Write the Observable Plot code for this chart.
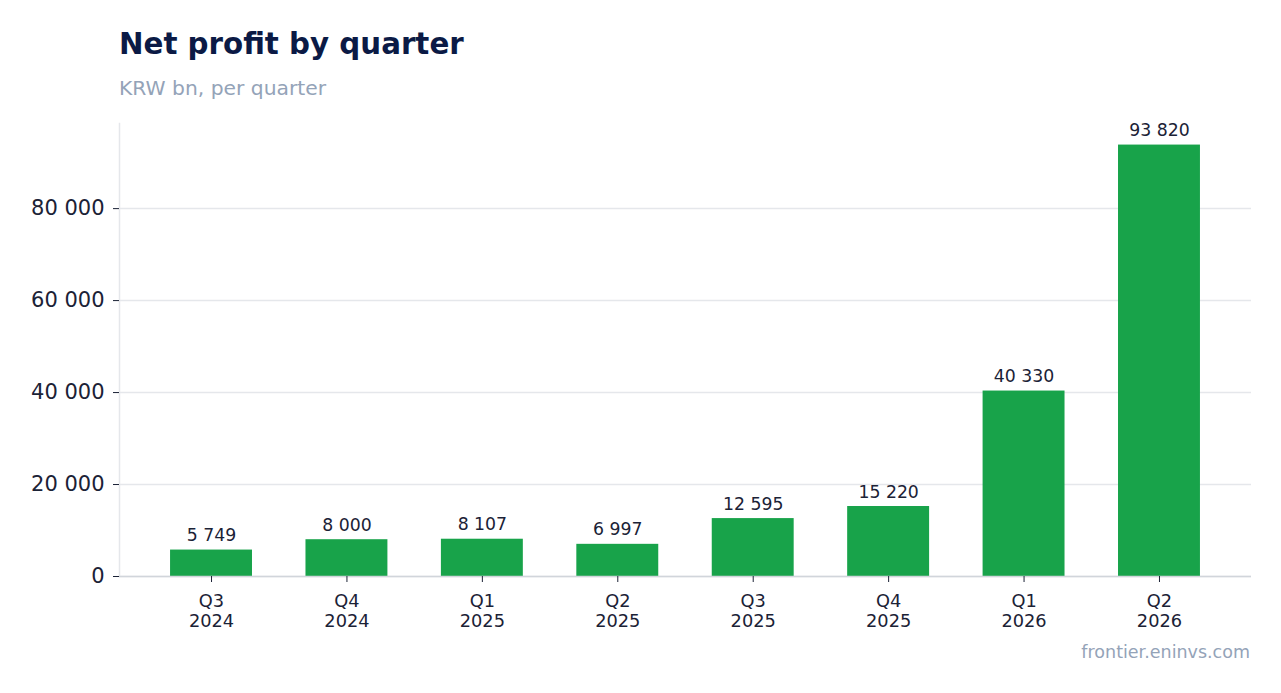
<!DOCTYPE html>
<html>
<head>
<meta charset="utf-8">
<script src="https://cdn.jsdelivr.net/npm/d3@7"></script>
<script src="https://cdn.jsdelivr.net/npm/@observablehq/plot@0.6"></script>
<style>
  html, body { margin: 0; padding: 0; background: #fff; }
  #wrap { position: relative; width: 1281px; height: 693px; font-family: "DejaVu Sans", sans-serif; overflow: hidden; }
  #wrap svg { position: absolute; left: 0; top: 0; }
  .t { position: absolute; line-height: normal; white-space: nowrap; }
  #title { left: 119px; top: 27px; font-size: 29.3px; font-weight: bold; color: #0b1a45; }
  #subtitle { left: 119px; top: 76px; font-size: 20.3px; color: #94a3b8; }
  #caption { right: 31px; top: 642px; font-size: 17.5px; color: #94a3b8; }
</style>
</head>
<body>
<div id="wrap">
  <div id="chart"></div>
  <div class="t" id="title">Net profit by quarter</div>
  <div class="t" id="subtitle">KRW bn, per quarter</div>
  <div class="t" id="caption">frontier.eninvs.com</div>
</div>
<script>
const quarters = ["Q3 2024", "Q4 2024", "Q1 2025", "Q2 2025", "Q3 2025", "Q4 2025", "Q1 2026", "Q2 2026"];
const profit = [5749, 8000, 8107, 6997, 12595, 15220, 40330, 93820];
const yTicks = [0, 20000, 40000, 60000, 80000];

const data = quarters.map((q, i) => ({ q, v: profit[i] }));
const fmt = d => d3.format(",")(d).replace(/,/g, " ");
const ink = "#1b2236";

const chart = Plot.plot({
  width: 1281,
  height: 693,
  marginTop: 123,
  marginBottom: 117,
  marginLeft: 119,
  marginRight: 30,
  style: { fontFamily: "DejaVu Sans, sans-serif", background: "transparent", color: ink },
  x: { domain: quarters, paddingInner: 0.395, paddingOuter: 0.377, round: false, label: null },
  y: { domain: [0, d3.max(profit) * 1.05], label: null },
  marks: [
    Plot.gridY(yTicks, { stroke: "#e5e7eb", strokeOpacity: 1, strokeWidth: 1.5 }),
    Plot.frame({ anchor: "left", stroke: "#e5e7eb", strokeWidth: 1.5 }),
    Plot.barY(data, { x: "q", y: "v", fill: "#18a34a" }),
    Plot.ruleY([0], { stroke: "#d1d5db", strokeWidth: 1.5 }),
    Plot.text(data, { x: "q", y: "v", text: d => fmt(d.v), lineAnchor: "bottom", dy: -9, fontSize: 17.3, fill: ink }),
    Plot.axisY({ ticks: yTicks, tickFormat: fmt, fontSize: 21, tickSize: 6, tickPadding: 9, stroke: ink, fill: ink, label: null }),
    Plot.axisX({ tickFormat: d => d.replace(" ", "\n"), fontSize: 17.8, tickSize: 6, tickPadding: 10, lineHeight: 1.13, stroke: ink, fill: ink, label: null })
  ]
});
document.getElementById("chart").appendChild(chart);
</script>
</body>
</html>
